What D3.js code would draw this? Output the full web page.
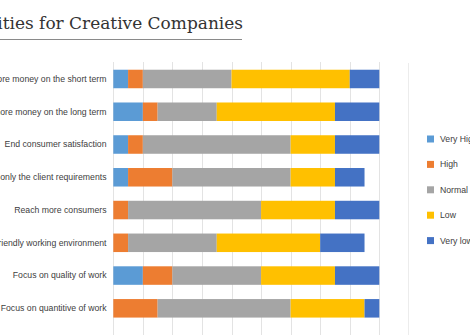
<!DOCTYPE html>
<html>
<head>
<meta charset="utf-8">
<script src="https://cdn.jsdelivr.net/npm/d3@7"></script>
<style>
  html, body { margin: 0; padding: 0; background: #fff; overflow: hidden; }
  svg { display: block; }
</style>
</head>
<body>
<svg id="chart" width="470" height="335"></svg>
<script>
const title = "Priorities for Creative Companies";
const categories = [
  "Make more money on the short term",
  "Make more money on the long term",
  "End consumer satisfaction",
  "Follow only the client requirements",
  "Reach more consumers",
  "Friendly working environment",
  "Focus on quality of work",
  "Focus on quantitive of work"
];
const seriesNames = ["Very High", "High", "Normal", "Low", "Very low"];
const veryHigh = [1, 2, 1, 1, 0, 0, 2, 0];
const high     = [1, 1, 1, 3, 1, 1, 2, 3];
const normal   = [6, 4, 10, 8, 9, 6, 6, 9];
const low      = [8, 8, 3, 3, 5, 7, 5, 5];
const veryLow  = [2, 3, 3, 2, 3, 3, 3, 1];
const colors   = ["#5B9BD5", "#ED7D31", "#A5A5A5", "#FFC000", "#4472C4"];
const xTicks   = [0, 2, 4, 6, 8, 10, 12, 14, 16, 18];

const svg = d3.select("#chart");
const seriesValues = [veryHigh, high, normal, low, veryLow];
const rows = categories.map((c, i) => {
  const r = { cat: c };
  seriesNames.forEach((s, k) => r[s] = seriesValues[k][i]);
  return r;
});
const stacked = d3.stack().keys(seriesNames)(rows);

const x = d3.scaleLinear().domain([0, 18]).range([113.3, 379.3]);
const y = d3.scaleBand().domain(categories).range([62.6, 324.7]).paddingInner(0.435).paddingOuter(0.2175);
const color = d3.scaleOrdinal().domain(seriesNames).range(colors);

// measure helper: font size so that a string spans a target width
function fitSize(str, family, target, base) {
  const t = svg.append("text").attr("font-family", family).attr("font-size", base).text(str);
  const w = t.node().getComputedTextLength();
  t.remove();
  return base * target / w;
}
const sansFam = "Liberation Sans, Arial, sans-serif";
const serifFam = "DejaVu Serif, Georgia, serif";
const labelSize = Math.min(10, fitSize("Focus on quantitive of work", sansFam, 106, 10));
const titleSize = fitSize("Creative Companies", serifFam, 174, 20);

// Title
svg.append("text")
  .attr("x", 243).attr("y", 29)
  .attr("text-anchor", "end")
  .attr("font-family", serifFam)
  .attr("font-size", titleSize)
  .attr("fill", "#333")
  .text(title);
svg.append("line")
  .attr("x1", 0).attr("x2", 242).attr("y1", 39.5).attr("y2", 39.5)
  .attr("stroke", "#8a8a8a").attr("stroke-width", 1);

// Gridlines
const grid = d3.axisBottom(x).tickValues(xTicks).tickSize(-(335 - 62)).tickFormat("");
svg.append("g")
  .attr("transform", "translate(0,335)")
  .call(grid)
  .call(g => g.select(".domain").remove())
  .call(g => g.selectAll("line").attr("stroke", "#e3e3e3").attr("shape-rendering", "crispEdges"));

// Category axis labels
svg.append("g")
  .attr("transform", "translate(106.5,0)")
  .call(d3.axisLeft(y).tickSize(0).tickPadding(0))
  .call(g => g.select(".domain").remove())
  .call(g => g.selectAll("text")
    .attr("font-family", sansFam)
    .attr("font-size", labelSize)
    .attr("fill", "#404040"));

// Bars
svg.append("g").selectAll("g")
  .data(stacked).join("g")
  .attr("fill", d => color(d.key))
  .selectAll("rect")
  .data(d => d).join("rect")
  .attr("x", d => x(d[0]))
  .attr("width", d => x(d[1]) - x(d[0]))
  .attr("y", d => y(d.data.cat))
  .attr("height", y.bandwidth());

// Legend separator
svg.append("line")
  .attr("x1", 408.5).attr("x2", 408.5).attr("y1", 63).attr("y2", 335)
  .attr("stroke", "#ececec");

// Legend
const leg = svg.append("g").selectAll("g")
  .data(seriesNames).join("g")
  .attr("transform", (d, i) => `translate(427,${139 + i * 25.4})`);
leg.append("rect")
  .attr("x", 0).attr("y", -3.5).attr("width", 7).attr("height", 7)
  .attr("fill", d => color(d));
leg.append("text")
  .attr("x", 13).attr("y", 0).attr("dy", "0.35em")
  .attr("font-family", sansFam)
  .attr("font-size", labelSize)
  .attr("fill", "#404040")
  .text(d => d);
</script>
</body>
</html>
